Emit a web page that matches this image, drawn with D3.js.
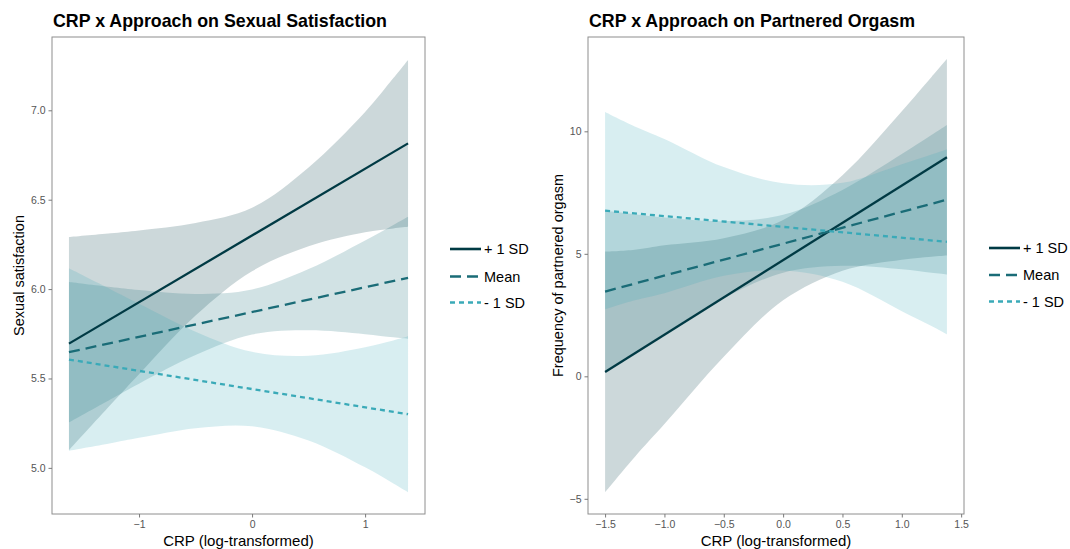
<!DOCTYPE html>
<html><head><meta charset="utf-8">
<script src="https://cdn.jsdelivr.net/npm/d3@7"></script>
<style>body{margin:0;background:#fff}svg{display:block}text{font-family:"Liberation Sans",Arial,Helvetica,sans-serif}</style>
</head><body><svg id="c" width="1070" height="549"></svg>
<script>
// ---------- data ----------
const seriesNames = ["+ 1 SD", "Mean", "- 1 SD"];

// Panel 1: Sexual satisfaction
const satX = [-1.62, -1.25, -1.0, -0.5, 0, 0.5, 1.0, 1.25, 1.38];
const satLineX = [-1.62, 1.38];
const satPlusLine = [5.695, 6.815];
const satMeanLine = [5.647, 6.063];
const satMinusLine = [5.606, 5.300];
const satPlusUpper = [6.291, 6.312, 6.328, 6.370, 6.455, 6.680, 6.990, 7.180, 7.282];
const satPlusLower = [5.099, 5.354, 5.524, 5.852, 6.100, 6.240, 6.318, 6.339, 6.348];
const satMeanUpper = [6.040, 6.012, 5.995, 5.973, 5.998, 6.112, 6.272, 6.358, 6.404];
const satMeanLower = [5.254, 5.384, 5.471, 5.631, 5.746, 5.770, 5.748, 5.730, 5.722];
const satMinusUpper = [6.116, 5.998, 5.918, 5.762, 5.649, 5.627, 5.675, 5.713, 5.736];
const satMinusLower = [5.096, 5.138, 5.168, 5.222, 5.233, 5.153, 5.003, 4.913, 4.864];
const satYTicks = [5.0, 5.5, 6.0, 6.5, 7.0];
const satXTicks = [-1, 0, 1];

// Panel 2: Partnered orgasm
const orgX = [-1.5, -1.25, -1.0, -0.5, 0, 0.5, 1.0, 1.25, 1.38];
const orgLineX = [-1.5, 1.38];
const orgPlusLine = [0.18, 8.94];
const orgMeanLine = [3.46, 7.21];
const orgMinusLine = [6.76, 5.49];
const orgPlusUpper = [5.09, 5.17, 5.35, 5.64, 6.38, 8.21, 10.82, 12.22, 12.95];
const orgPlusLower = [-4.73, -3.29, -1.95, 0.80, 3.10, 4.31, 4.76, 4.88, 4.93];
const orgMeanUpper = [6.76, 6.62, 6.48, 6.33, 6.59, 7.61, 9.07, 9.85, 10.26];
const orgMeanLower = [0.16, 0.96, 1.74, 3.19, 4.23, 4.51, 4.37, 4.23, 4.16];
const orgMinusUpper = [10.79, 10.20, 9.69, 8.54, 7.88, 7.90, 8.66, 9.05, 9.27];
const orgMinusLower = [2.73, 3.10, 3.39, 4.10, 4.32, 3.86, 2.66, 2.05, 1.71];
const orgYTicks = [-5, 0, 5, 10];
const orgXTicks = [-1.5, -1.0, -0.5, 0.0, 0.5, 1.0, 1.5];

// ---------- style ----------
const lineColors = ["#003a44", "#1a6c77", "#3aaab8"];
const dashes = [null, "11,6", "5,4"];
const bandAlpha = 0.2;

const svg = d3.select("#c");

function panel(cfg) {
  const {left, right, top, bottom} = cfg.box;
  const x = d3.scaleLinear().domain(cfg.xDomain).range([left, right]);
  const y = d3.scaleLinear().domain(cfg.yDomain).range([bottom, top]);
  const g = svg.append("g");

  // bands
  cfg.bands.forEach((b, k) => {
    const area = d3.area()
      .x((d, i) => x(cfg.xs[i]))
      .y0((d, i) => y(b.lower[i]))
      .y1((d, i) => y(b.upper[i]))
      .curve(d3.curveCatmullRom.alpha(0.5));
    g.append("path").datum(cfg.xs).attr("d", area)
      .attr("fill", lineColors[k]).attr("fill-opacity", bandAlpha);
  });

  // lines
  cfg.lines.forEach((vals, k) => {
    const line = d3.line().x((d, i) => x(cfg.lineX[i])).y(d => y(d));
    g.append("path").datum(vals).attr("d", line)
      .attr("fill", "none").attr("stroke", lineColors[k])
      .attr("stroke-width", 2.3)
      .attr("stroke-dasharray", dashes[k]);
  });

  // border
  g.append("rect").attr("x", left).attr("y", top)
    .attr("width", right - left).attr("height", bottom - top)
    .attr("fill", "none").attr("stroke", "#8e8e8e").attr("stroke-width", 1);

  // axes
  const ax = g.append("g").attr("transform", `translate(0,${bottom})`)
    .call(d3.axisBottom(x).tickValues(cfg.xTicks).tickFormat(cfg.xFmt).tickSize(3.5).tickPadding(3));
  const ay = g.append("g").attr("transform", `translate(${left},0)`)
    .call(d3.axisLeft(y).tickValues(cfg.yTicks).tickFormat(cfg.yFmt).tickSize(3.5).tickPadding(3));
  [ax, ay].forEach(a => {
    a.select(".domain").remove();
    a.selectAll(".tick line").attr("stroke", "#7a7a7a");
    a.selectAll(".tick text").attr("fill", "#555").style("font-size", "10.5px")
      .style("font-family", '"Liberation Sans", Arial, sans-serif');
  });

  // title
  g.append("text").attr("x", left + 1).attr("y", 27).text(cfg.title)
    .style("font-size", "17.8px").style("font-weight", "bold").attr("fill", "#000");
  // x label
  g.append("text").attr("x", (left + right) / 2).attr("y", 545.5).attr("text-anchor", "middle")
    .text("CRP (log-transformed)").style("font-size", "15px").attr("fill", "#000");
  // y label
  g.append("text").attr("transform", `translate(${cfg.yLabelX},${(top + bottom) / 2}) rotate(-90)`)
    .attr("text-anchor", "middle").text(cfg.yLabel).style("font-size", "14.5px").attr("fill", "#000");

  // legend
  const lg = g.append("g");
  seriesNames.forEach((nm, k) => {
    const yy = cfg.legend.y[k];
    lg.append("line").attr("x1", cfg.legend.x).attr("x2", cfg.legend.x + 31)
      .attr("y1", yy).attr("y2", yy).attr("stroke", lineColors[k]).attr("stroke-width", 2.6)
      .attr("stroke-dasharray", dashes[k]);
    lg.append("text").attr("x", cfg.legend.x + 34).attr("y", yy + 5).text(nm)
      .style("font-size", "14.5px").attr("fill", "#000");
  });
}

panel({
  box: {left: 52, right: 425, top: 37, bottom: 514},
  xDomain: [-1.77, 1.53], yDomain: [4.742, 7.41],
  xs: satX, lineX: satLineX,
  bands: [
    {upper: satPlusUpper, lower: satPlusLower},
    {upper: satMeanUpper, lower: satMeanLower},
    {upper: satMinusUpper, lower: satMinusLower}
  ],
  lines: [satPlusLine, satMeanLine, satMinusLine],
  xTicks: satXTicks, yTicks: satYTicks,
  xFmt: d3.format("d"), yFmt: d3.format(".1f"),
  title: "CRP x Approach on Sexual Satisfaction",
  yLabel: "Sexual satisfaction", yLabelX: 24,
  legend: {x: 450, y: [249, 276.5, 302.5]}
});

panel({
  box: {left: 588, right: 964, top: 37, bottom: 514},
  xDomain: [-1.644, 1.524], yDomain: [-5.62, 13.85],
  xs: orgX, lineX: orgLineX,
  bands: [
    {upper: orgPlusUpper, lower: orgPlusLower},
    {upper: orgMeanUpper, lower: orgMeanLower},
    {upper: orgMinusUpper, lower: orgMinusLower}
  ],
  lines: [orgPlusLine, orgMeanLine, orgMinusLine],
  xTicks: orgXTicks, yTicks: orgYTicks,
  xFmt: d3.format(".1f"), yFmt: d3.format("d"),
  title: "CRP x Approach on Partnered Orgasm",
  yLabel: "Frequency of partnered orgasm", yLabelX: 563,
  legend: {x: 989, y: [248, 275, 301.5]}
});
</script></body></html>
